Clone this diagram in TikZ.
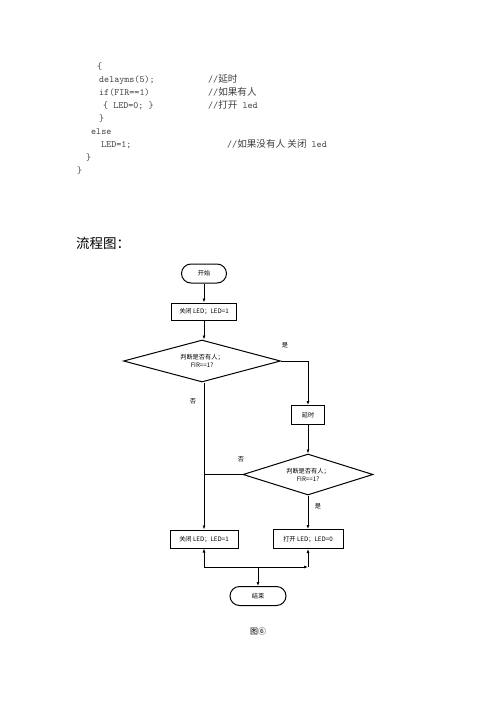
\documentclass[tikz,border=0pt]{standalone}
\usepackage{fontspec}
\setmainfont{Liberation Sans}
\newfontfamily\cjk{Noto Sans CJK SC}
\usetikzlibrary{shapes.geometric,shapes.misc,arrows.meta,calc}
\begin{document}
\begin{tikzpicture}[x=1pt,y=-1pt,
  code/.style={anchor=west,inner sep=0pt,font=\fontsize{9.6}{10}\ttfamily,text=black!75,text height=7pt,text depth=2pt},
  cmt/.style={anchor=west,inner sep=0pt,font=\fontsize{9.6}{10}\ttfamily,text=black!75,text height=7pt,text depth=2pt},
  term/.style={draw,line width=1pt,rounded rectangle,minimum width=#1,minimum height=19pt,inner sep=0pt,font=\fontsize{6.2}{7}\cjk},
  proc/.style={draw,line width=1pt,rectangle,minimum width=#1,minimum height=18pt,inner sep=0pt,font=\fontsize{6.2}{7}\cjk},
  dec/.style={draw,line width=1pt,diamond,aspect=#1,inner sep=0pt,font=\fontsize{6.2}{8}\cjk,align=center},
  lbl/.style={inner sep=0pt,font=\fontsize{6.2}{7}\cjk},
  conn/.style={line width=1pt},
  arr/.style={line width=1pt,-{Latex[length=4pt,width=3pt]}}
]
\useasboundingbox[fill=white] (0,0) rectangle (500,707);

% code
\node[code] (c1) at (97,66.5) {\{};
\node[code] (c2) at (99,79.5) {delayms(5);};
\node[cmt] (m2) at (208,79.5) {//{\cjk 延时}};
\node[code] (c3) at (99,92.5) {if(FIR==1)};
\node[cmt] (m3) at (208,92.5) {//{\cjk 如果有人}};
\node[code] (c4) at (103,105.5) {\{ LED=0; \}};
\node[cmt] (m4) at (208,105.5) {//{\cjk 打开} led};
\node[code] (c5) at (99,118.5) {\}};
\node[code] (c6) at (91,131.5) {else};
\node[code] (c7) at (101,145) {LED=1;};
\node[cmt] (m7) at (227,145) {//{\cjk 如果没有人 关闭} led};
\node[code] (c8) at (86,158) {\}};
\node[code] (c9) at (77,171) {\}};

% title
\node[anchor=west,inner sep=0pt,font=\fontsize{13.5}{14}\cjk] (title) at (76,243) {流程图：};

% flowchart
\node[term=45pt] (start) at (204,273.5) {开始};
\node[proc=65pt,minimum height=17pt] (b1) at (204,311.5) {关闭 LED；LED=1};
\node[dec=3.7,minimum width=157pt,minimum height=42pt] (d1) at (202,361) {判断是否有人；\\FIR==1?};
\node[proc=33pt,minimum height=19pt] (delay) at (308,415) {延时};
\node[dec=3.2,minimum width=130pt,minimum height=41pt] (d2) at (308,474.5) {判断是否有人；\\FIR==1?};
\node[proc=68pt] (lb) at (204,539) {关闭 LED；LED=1};
\node[proc=70pt,minimum height=19pt] (rb) at (308,539) {打开 LED；LED=0};
\node[term=56pt] (end) at (258,596) {结束};

\node[lbl] (yes1) at (285,345) {是};
\node[lbl] (no1) at (193,401) {否};
\node[lbl] (no2) at (241,459) {否};
\node[lbl] (yes2) at (318,506) {是};

\draw[arr] (start) -- (b1);
\draw[arr] (b1) -- (b1 |- d1.north);
\draw[arr] (d1.east) -| (delay.north);
\draw[arr] (d1.south -| lb.north) -- (lb.north);
\draw[arr] (delay) -- (d2.north);
\draw[conn] (d2.west) -- (d2.west -| lb.north);
\draw[arr] (d2.south) -- (rb.north);

\coordinate (jb) at (258,567);
\coordinate (jl) at (lb.south |- jb);
\coordinate (jr) at (rb.south |- jb);
\draw[arr] (jb) -- (jl) -- (lb.south);
\draw[arr] (jb) -- (jr);
\draw[arr] (jr) -- (rb.south);
\draw[arr] (jb) -- (end.north);

\node[inner sep=0pt,font=\fontsize{8}{9}\cjk] (cap) at (258,631) {图⑥};
\end{tikzpicture}
\end{document}
